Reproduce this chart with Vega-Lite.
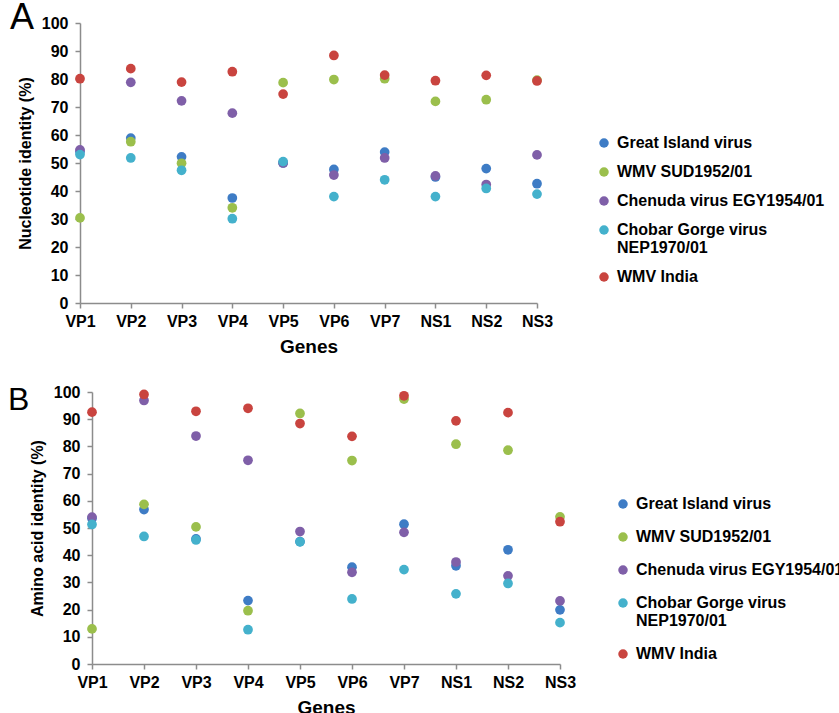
{
  "$schema": "https://vega.github.io/schema/vega-lite/v6.json",
  "padding": {"left": 8, "top": 0, "right": 0, "bottom": 0},
  "spacing": 28,
  "resolve": {"legend": {"color": "independent"}},
  "datasets": {
    "nt": [
      {"gene": "VP1", "virus": "Great Island virus", "value": 54},
      {"gene": "VP2", "virus": "Great Island virus", "value": 58.9},
      {"gene": "VP3", "virus": "Great Island virus", "value": 52.2},
      {"gene": "VP4", "virus": "Great Island virus", "value": 37.5},
      {"gene": "VP5", "virus": "Great Island virus", "value": 50},
      {"gene": "VP6", "virus": "Great Island virus", "value": 47.7},
      {"gene": "VP7", "virus": "Great Island virus", "value": 53.9},
      {"gene": "NS1", "virus": "Great Island virus", "value": 45},
      {"gene": "NS2", "virus": "Great Island virus", "value": 48},
      {"gene": "NS3", "virus": "Great Island virus", "value": 42.6},
      {"gene": "VP1", "virus": "WMV SUD1952/01", "value": 30.4},
      {"gene": "VP2", "virus": "WMV SUD1952/01", "value": 57.6},
      {"gene": "VP3", "virus": "WMV SUD1952/01", "value": 49.9},
      {"gene": "VP4", "virus": "WMV SUD1952/01", "value": 34},
      {"gene": "VP5", "virus": "WMV SUD1952/01", "value": 78.7},
      {"gene": "VP6", "virus": "WMV SUD1952/01", "value": 79.8},
      {"gene": "VP7", "virus": "WMV SUD1952/01", "value": 80.1},
      {"gene": "NS1", "virus": "WMV SUD1952/01", "value": 72},
      {"gene": "NS2", "virus": "WMV SUD1952/01", "value": 72.6},
      {"gene": "NS3", "virus": "WMV SUD1952/01", "value": 79.6},
      {"gene": "VP1", "virus": "Chenuda virus EGY1954/01", "value": 54.7},
      {"gene": "VP2", "virus": "Chenuda virus EGY1954/01", "value": 78.8},
      {"gene": "VP3", "virus": "Chenuda virus EGY1954/01", "value": 72.2},
      {"gene": "VP4", "virus": "Chenuda virus EGY1954/01", "value": 67.8},
      {"gene": "VP5", "virus": "Chenuda virus EGY1954/01", "value": 50},
      {"gene": "VP6", "virus": "Chenuda virus EGY1954/01", "value": 45.7},
      {"gene": "VP7", "virus": "Chenuda virus EGY1954/01", "value": 51.8},
      {"gene": "NS1", "virus": "Chenuda virus EGY1954/01", "value": 45.4},
      {"gene": "NS2", "virus": "Chenuda virus EGY1954/01", "value": 42.3},
      {"gene": "NS3", "virus": "Chenuda virus EGY1954/01", "value": 52.9},
      {"gene": "VP1", "virus": "Chobar Gorge virus NEP1970/01", "value": 53},
      {"gene": "VP2", "virus": "Chobar Gorge virus NEP1970/01", "value": 51.8},
      {"gene": "VP3", "virus": "Chobar Gorge virus NEP1970/01", "value": 47.4},
      {"gene": "VP4", "virus": "Chobar Gorge virus NEP1970/01", "value": 30.1},
      {"gene": "VP5", "virus": "Chobar Gorge virus NEP1970/01", "value": 50.5},
      {"gene": "VP6", "virus": "Chobar Gorge virus NEP1970/01", "value": 38},
      {"gene": "VP7", "virus": "Chobar Gorge virus NEP1970/01", "value": 44},
      {"gene": "NS1", "virus": "Chobar Gorge virus NEP1970/01", "value": 38},
      {"gene": "NS2", "virus": "Chobar Gorge virus NEP1970/01", "value": 40.9},
      {"gene": "NS3", "virus": "Chobar Gorge virus NEP1970/01", "value": 38.9},
      {"gene": "VP1", "virus": "WMV India", "value": 80.1},
      {"gene": "VP2", "virus": "WMV India", "value": 83.7},
      {"gene": "VP3", "virus": "WMV India", "value": 78.9},
      {"gene": "VP4", "virus": "WMV India", "value": 82.6},
      {"gene": "VP5", "virus": "WMV India", "value": 74.6},
      {"gene": "VP6", "virus": "WMV India", "value": 88.4},
      {"gene": "VP7", "virus": "WMV India", "value": 81.4},
      {"gene": "NS1", "virus": "WMV India", "value": 79.4},
      {"gene": "NS2", "virus": "WMV India", "value": 81.3},
      {"gene": "NS3", "virus": "WMV India", "value": 79.3}
    ],
    "aa": [
      {"gene": "VP1", "virus": "Great Island virus", "value": 53.5},
      {"gene": "VP2", "virus": "Great Island virus", "value": 56.8},
      {"gene": "VP3", "virus": "Great Island virus", "value": 46},
      {"gene": "VP4", "virus": "Great Island virus", "value": 23.3},
      {"gene": "VP5", "virus": "Great Island virus", "value": 45},
      {"gene": "VP6", "virus": "Great Island virus", "value": 35.6},
      {"gene": "VP7", "virus": "Great Island virus", "value": 51.4},
      {"gene": "NS1", "virus": "Great Island virus", "value": 36.1},
      {"gene": "NS2", "virus": "Great Island virus", "value": 42},
      {"gene": "NS3", "virus": "Great Island virus", "value": 19.9},
      {"gene": "VP1", "virus": "WMV SUD1952/01", "value": 12.9},
      {"gene": "VP2", "virus": "WMV SUD1952/01", "value": 58.7},
      {"gene": "VP3", "virus": "WMV SUD1952/01", "value": 50.4},
      {"gene": "VP4", "virus": "WMV SUD1952/01", "value": 19.6},
      {"gene": "VP5", "virus": "WMV SUD1952/01", "value": 92.1},
      {"gene": "VP6", "virus": "WMV SUD1952/01", "value": 74.8},
      {"gene": "VP7", "virus": "WMV SUD1952/01", "value": 97.4},
      {"gene": "NS1", "virus": "WMV SUD1952/01", "value": 80.8},
      {"gene": "NS2", "virus": "WMV SUD1952/01", "value": 78.6},
      {"gene": "NS3", "virus": "WMV SUD1952/01", "value": 54.1},
      {"gene": "VP1", "virus": "Chenuda virus EGY1954/01", "value": 54},
      {"gene": "VP2", "virus": "Chenuda virus EGY1954/01", "value": 96.9},
      {"gene": "VP3", "virus": "Chenuda virus EGY1954/01", "value": 83.8},
      {"gene": "VP4", "virus": "Chenuda virus EGY1954/01", "value": 74.9},
      {"gene": "VP5", "virus": "Chenuda virus EGY1954/01", "value": 48.7},
      {"gene": "VP6", "virus": "Chenuda virus EGY1954/01", "value": 33.7},
      {"gene": "VP7", "virus": "Chenuda virus EGY1954/01", "value": 48.4},
      {"gene": "NS1", "virus": "Chenuda virus EGY1954/01", "value": 37.5},
      {"gene": "NS2", "virus": "Chenuda virus EGY1954/01", "value": 32.4},
      {"gene": "NS3", "virus": "Chenuda virus EGY1954/01", "value": 23.2},
      {"gene": "VP1", "virus": "Chobar Gorge virus NEP1970/01", "value": 51.3},
      {"gene": "VP2", "virus": "Chobar Gorge virus NEP1970/01", "value": 46.9},
      {"gene": "VP3", "virus": "Chobar Gorge virus NEP1970/01", "value": 45.6},
      {"gene": "VP4", "virus": "Chobar Gorge virus NEP1970/01", "value": 12.6},
      {"gene": "VP5", "virus": "Chobar Gorge virus NEP1970/01", "value": 44.9},
      {"gene": "VP6", "virus": "Chobar Gorge virus NEP1970/01", "value": 23.9},
      {"gene": "VP7", "virus": "Chobar Gorge virus NEP1970/01", "value": 34.7},
      {"gene": "NS1", "virus": "Chobar Gorge virus NEP1970/01", "value": 25.8},
      {"gene": "NS2", "virus": "Chobar Gorge virus NEP1970/01", "value": 29.6},
      {"gene": "NS3", "virus": "Chobar Gorge virus NEP1970/01", "value": 15.2},
      {"gene": "VP1", "virus": "WMV India", "value": 92.6},
      {"gene": "VP2", "virus": "WMV India", "value": 99.1},
      {"gene": "VP3", "virus": "WMV India", "value": 92.9},
      {"gene": "VP4", "virus": "WMV India", "value": 94},
      {"gene": "VP5", "virus": "WMV India", "value": 88.4},
      {"gene": "VP6", "virus": "WMV India", "value": 83.7},
      {"gene": "VP7", "virus": "WMV India", "value": 98.6},
      {"gene": "NS1", "virus": "WMV India", "value": 89.4},
      {"gene": "NS2", "virus": "WMV India", "value": 92.4},
      {"gene": "NS3", "virus": "WMV India", "value": 52.3}
    ]
  },
  "config": {
    "font": "Liberation Sans",
    "view": {"stroke": null},
    "axis": {
      "grid": false,
      "domainColor": "#8c8c8c",
      "domainWidth": 1.5,
      "tickColor": "#8c8c8c",
      "tickWidth": 1.5,
      "tickSize": 5,
      "labelFont": "Liberation Sans",
      "labelFontWeight": "bold",
      "labelFontSize": 16,
      "labelColor": "#000000",
      "titleFont": "Liberation Sans",
      "titleFontWeight": "bold",
      "titleColor": "#000000"
    },
    "legend": {
      "orient": "none",
      "title": null,
      "padding": 0,
      "symbolType": "circle",
      "symbolSize": 90,
      "symbolStrokeWidth": 0,
      "symbolOpacity": 1,
      "labelFont": "Liberation Sans",
      "labelFontWeight": "bold",
      "labelFontSize": 16,
      "labelColor": "#000000",
      "labelOffset": 5,
      "labelLimit": 400
    }
  },
  "vconcat": [
    {
      "title": {"text": "A", "fontSize": 36, "fontWeight": "normal", "font": "Liberation Sans", "color": "#000000", "anchor": "start", "frame": "group", "dx": -70, "offset": -22},
      "width": 457,
      "height": 280,
      "data": {"name": "nt"},
      "mark": {"type": "circle", "size": 95, "opacity": 1},
      "encoding": {
        "x": {
          "field": "gene", "type": "ordinal",
          "sort": ["VP1", "VP2", "VP3", "VP4", "VP5", "VP6", "VP7", "NS1", "NS2", "NS3"],
          "scale": {"type": "point", "padding": 0},
          "axis": {"title": "Genes", "labelAngle": 0, "labelPadding": 5, "titleFontSize": 19, "titlePadding": 8}
        },
        "y": {
          "field": "value", "type": "quantitative",
          "scale": {"domain": [0, 100]},
          "axis": {"title": "Nucleotide identity (%)", "values": [0, 10, 20, 30, 40, 50, 60, 70, 80, 90, 100], "labelPadding": 7, "titleFontSize": 16, "titlePadding": 8}
        },
        "color": {
          "field": "virus", "type": "nominal",
          "scale": {
            "domain": ["Great Island virus", "WMV SUD1952/01", "Chenuda virus EGY1954/01", "Chobar Gorge virus NEP1970/01", "WMV India"],
            "range": ["#3E7CC5", "#9BBF4C", "#7F5FA8", "#44B1CC", "#C9443F"]
          },
          "legend": {"legendX": 516, "legendY": 112, "rowPadding": 13,
            "labelExpr": "indexof(datum.label, 'Chobar') >= 0 ? ['Chobar Gorge virus', 'NEP1970/01'] : datum.label"}
        }
      }
    },
    {
      "title": {"text": "B", "fontSize": 32, "fontWeight": "normal", "font": "Liberation Sans", "color": "#000000", "anchor": "start", "frame": "group", "dx": -72, "offset": -33},
      "width": 480,
      "height": 272,
      "data": {"name": "aa"},
      "mark": {"type": "circle", "size": 95, "opacity": 1},
      "encoding": {
        "x": {
          "field": "gene", "type": "ordinal",
          "sort": ["VP1", "VP2", "VP3", "VP4", "VP5", "VP6", "VP7", "NS1", "NS2", "NS3"],
          "scale": {"type": "point", "padding": 0, "range": [12, 480]},
          "axis": {"title": "Genes", "labelAngle": 0, "labelPadding": 5, "titleFontSize": 19, "titlePadding": 8}
        },
        "y": {
          "field": "value", "type": "quantitative",
          "scale": {"domain": [0, 100]},
          "axis": {"title": "Amino acid identity (%)", "values": [0, 10, 20, 30, 40, 50, 60, 70, 80, 90, 100], "labelPadding": 7, "titleFontSize": 16, "titlePadding": 8, "offset": -12}
        },
        "color": {
          "field": "virus", "type": "nominal",
          "scale": {
            "domain": ["Great Island virus", "WMV SUD1952/01", "Chenuda virus EGY1954/01", "Chobar Gorge virus NEP1970/01", "WMV India"],
            "range": ["#3E7CC5", "#9BBF4C", "#7F5FA8", "#44B1CC", "#C9443F"]
          },
          "legend": {"legendX": 535, "legendY": 104, "rowPadding": 17,
            "labelExpr": "indexof(datum.label, 'Chobar') >= 0 ? ['Chobar Gorge virus', 'NEP1970/01'] : datum.label"}
        }
      }
    }
  ]
}
